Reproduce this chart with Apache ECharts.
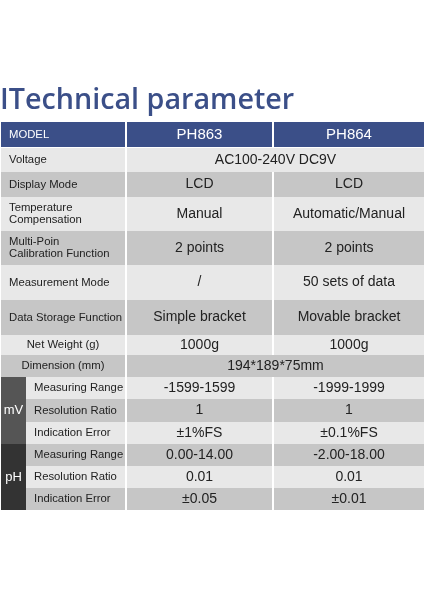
<!DOCTYPE html>
<html><head><meta charset="utf-8">
<script src="https://cdn.jsdelivr.net/npm/echarts@6/dist/echarts.min.js"></script>
<style>html,body{margin:0;padding:0;background:#fff}#c{width:424px;height:600px}</style>
</head><body><div id="c"></div>
<script>
var title = "ITechnical parameter";
var headers = ["MODEL", "PH863", "PH864"];
var rowLabels = ["Voltage", "Display Mode", "Temperature\nCompensation", "Multi-Poin\nCalibration Function", "Measurement Mode", "Data Storage Function", "Net Weight (g)", "Dimension (mm)"];
var ph863 = ["AC100-240V DC9V", "LCD", "Manual", "2 points", "/", "Simple bracket", "1000g", "194*189*75mm"];
var ph864 = [null, "LCD", "Automatic/Manual", "2 points", "50 sets of data", "Movable bracket", "1000g", null];
var groups = ["mV", "pH"];
var subLabels = ["Measuring Range", "Resolution Ratio", "Indication Error"];
var mv863 = ["-1599-1599", "1", "±1%FS"];
var mv864 = ["-1999-1999", "1", "±0.1%FS"];
var pH863 = ["0.00-14.00", "0.01", "±0.05"];
var pH864 = ["-2.00-18.00", "0.01", "±0.01"];

// layout
var X0 = 1, XG = 26, X1 = 125, X2 = 127, X3 = 272, X4 = 274, X5 = 424;
var headY = [122, 147];
var rowY = [148, 172, 197, 231, 265, 300, 335, 355, 377, 399, 422, 444, 466, 488, 510];
var LIGHT = "#e8e8e8", DARK = "#c6c6c6", HEAD = "#3b4f88";
var LF = 11.3, VF = 14;
var cells = [];
function cell(x0, x1, y0, y1, t, fill, col, fs, left) { cells.push([x0, x1, y0, y1, t || "", fill, col, fs, left ? 1 : 0]); }
cell(X0, X1, headY[0], headY[1], headers[0], HEAD, "#fff", LF, true);
cell(X2, X3, headY[0], headY[1], headers[1], HEAD, "#fff", 15);
cell(X4, X5, headY[0], headY[1], headers[2], HEAD, "#fff", 15);
rowLabels.forEach(function (l, i) {
  var f = i % 2 ? DARK : LIGHT, y0 = rowY[i], y1 = rowY[i + 1];
  var left = i < 6;
  cell(X0, X1, y0, y1, l, f, "#222", LF, left);
  if (ph864[i] === null) cell(X2, X5, y0, y1, ph863[i], f, "#222", VF);
  else { cell(X2, X3, y0, y1, ph863[i], f, "#222", VF); cell(X4, X5, y0, y1, ph864[i], f, "#222", VF); }
});
groups.forEach(function (g, gi) {
  var a = gi ? pH863 : mv863, b = gi ? pH864 : mv864;
  var base = 8 + gi * 3;
  cell(X0, XG, rowY[base], rowY[base + 3], g, gi ? "#333" : "#555", "#fff", 13);
  subLabels.forEach(function (s, k) {
    var r = base + k, f = r % 2 ? DARK : LIGHT;
    cell(XG, X1, rowY[r], rowY[r + 1], s, f, "#222", LF, true);
    cell(X2, X3, rowY[r], rowY[r + 1], a[k], f, "#222", VF);
    cell(X4, X5, rowY[r], rowY[r + 1], b[k], f, "#222", VF);
  });
});

var chart = echarts.init(document.getElementById('c'), null, { renderer: 'canvas' });
chart.setOption({
  animation: false,
  grid: { left: 0, right: 0, top: 0, bottom: 0 },
  xAxis: { type: 'value', min: 0, max: 424, show: false },
  yAxis: { type: 'value', min: 0, max: 600, inverse: true, show: false },
  graphic: [{ type: 'text', left: 0, top: 86, style: { text: title, fill: '#3b4f88', font: '600 28.7px "Open Sans"' } }],
  series: [{
    type: 'custom', clip: false,
    data: cells,
    encode: { x: [0, 1], y: [2, 3] },
    renderItem: function (params, api) {
      var p0 = api.coord([api.value(0), api.value(2)]);
      var p1 = api.coord([api.value(1), api.value(3)]);
      var d = cells[params.dataIndex];
      var left = d[8] === 1;
      return { type: 'group', children: [
        { type: 'rect', shape: { x: p0[0], y: p0[1], width: p1[0] - p0[0], height: p1[1] - p0[1] }, style: { fill: d[5] } },
        { type: 'text', style: { text: d[4], x: left ? p0[0] + 8 : (p0[0] + p1[0]) / 2, y: (p0[1] + p1[1]) / 2,
          align: left ? 'left' : 'center', verticalAlign: 'middle', fill: d[6], lineHeight: 12,
          font: d[7] + 'px "Liberation Sans", Arial, sans-serif' } }
      ] };
    }
  }]
});
</script></body></html>
